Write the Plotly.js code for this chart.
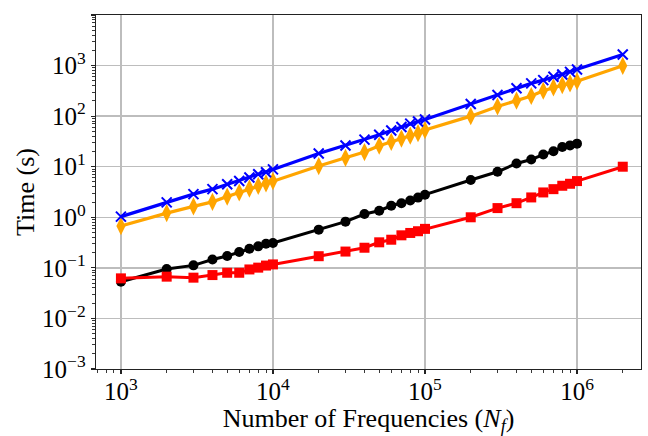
<!DOCTYPE html>
<html>
<head>
<meta charset="utf-8">
<script src="https://cdn.plot.ly/plotly-3.0.1.min.js"></script>
<style>html,body{margin:0;padding:0;background:#fff;}#chart{width:648px;height:436px;}</style>
</head>
<body>
<div id="chart"></div>
<script>
// Number of frequencies (x)
const nfAll = [1e3,2e3,3e3,4e3,5e3,6e3,7e3,8e3,9e3,
               1e4,2e4,3e4,4e4,5e4,6e4,7e4,8e4,9e4,
               1e5,2e5,3e5,4e5,5e5,6e5,7e5,8e5,9e5,
               1e6,2e6];
const nfBlack = nfAll.slice(0, 28);

// Times (s)
const timeBlue = [1.03,1.97,2.87,3.6,4.5,5.2,6.1,7.1,7.8,
                  8.85,18.2,26.2,34.3,43,52,61,71,78.5,
                  86,174,262,355,444,515,600,667,750,
                  835,1660];
const timeOrange = [0.67,1.21,1.64,2.02,2.57,3.09,3.7,4.17,4.7,
                    5.2,10.3,15,19.5,26,31,36,41,46,
                    53,100,155,202,250,318,370,411,444,
                    490,990];
const timeBlack = [0.053,0.095,0.112,0.146,0.172,0.206,0.239,0.266,0.30,
                   0.31,0.57,0.82,1.16,1.35,1.69,1.9,2.15,2.45,
                   2.8,5.46,7.95,11.6,13.9,17.4,20.2,24.6,26.4,
                   28.6];
const timeRed = [0.062,0.067,0.064,0.072,0.08,0.08,0.093,0.101,0.111,
                 0.117,0.17,0.21,0.25,0.32,0.36,0.44,0.49,0.53,
                 0.59,1.0,1.52,1.9,2.47,3.1,3.6,4.2,4.6,
                 5.2,10];

const xTickVals = [1e3,1e4,1e5,1e6];
const xTickText = ['10<sup>3</sup>','10<sup>4</sup>','10<sup>5</sup>','10<sup>6</sup>'];
const yTickVals = [1e-3,1e-2,1e-1,1,1e1,1e2,1e3,1e4];
const yTickText = ['10<sup>−3</sup>','10<sup>−2</sup>','10<sup>−1</sup>','10<sup>0</sup>',
                   '10<sup>1</sup>','10<sup>2</sup>','10<sup>3</sup>','10<sup>4</sup>'];

const FONT = 'Liberation Serif';

const traces = [
  {x: nfBlack, y: timeBlack, mode: 'lines+markers', name: 'black',
   line: {color: '#000000', width: 3},
   marker: {symbol: 'circle', size: 10, color: '#000000'}},
  {x: nfAll, y: timeRed, mode: 'lines+markers', name: 'red',
   line: {color: '#ff0000', width: 3},
   marker: {symbol: 'square', size: 10, color: '#ff0000'}},
  {x: nfAll, y: timeOrange, mode: 'lines+markers', name: 'orange',
   line: {color: '#ffa500', width: 3.2},
   marker: {symbol: 'diamond-tall', size: 13, color: '#ffa500'}},
  {x: nfAll, y: timeBlue, mode: 'lines+markers', name: 'blue',
   line: {color: '#0000ff', width: 3.2},
   marker: {symbol: 'x-thin', size: 10, color: '#0000ff', line: {color: '#0000ff', width: 2}}}
];

const axisCommon = {
  type: 'log',
  showline: true, mirror: true, linecolor: '#222', linewidth: 1.3,
  showgrid: true, gridcolor: '#bdbdbd', gridwidth: 1.3,
  zeroline: false,
  ticks: 'outside', ticklen: 4, tickwidth: 1.2, tickcolor: '#222',
  tickmode: 'array',
  minor: {ticks: 'outside', ticklen: 2.5, tickwidth: 0.9, tickcolor: '#222', dtick: 'D1', showgrid: false},
  tickfont: {family: FONT, size: 25, color: '#000'}
};

const layout = {
  width: 648, height: 436,
  font: {family: FONT, color: '#000'},
  margin: {l: 96, r: 7, t: 15, b: 64},
  paper_bgcolor: '#fff', plot_bgcolor: '#fff',
  showlegend: false,
  xaxis: Object.assign({}, axisCommon, {
    range: [2.836, 6.421],
    tickvals: xTickVals, ticktext: xTickText,
    ticklabelstandoff: -4,
    automargin: true,
    title: {text: 'Number of Frequencies (<i>N</i><sub><i>f</i></sub>)', font: {family: FONT, size: 26, color: '#000'}, standoff: 6}
  }),
  yaxis: Object.assign({}, axisCommon, {
    range: [-3, 4],
    automargin: false,
    tickvals: yTickVals, ticktext: yTickText,
    title: {text: 'Time (s)', font: {family: FONT, size: 26, color: '#000'}}
  })
};

Plotly.newPlot('chart', traces, layout, {displayModeBar: false, staticPlot: true});
</script>
</body>
</html>
